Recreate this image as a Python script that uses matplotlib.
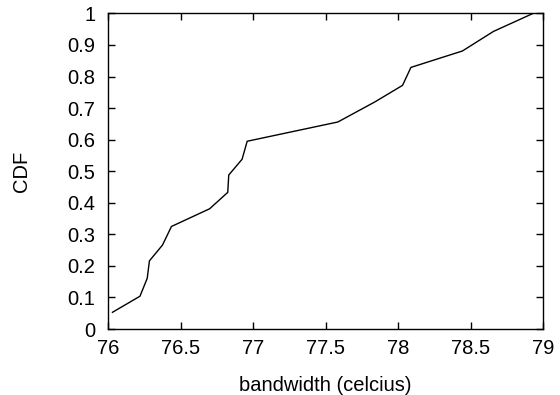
import matplotlib
matplotlib.use("Agg")
import matplotlib.pyplot as plt

# CDF points
temp = [76.03, 76.22, 76.27, 76.285, 76.375, 76.437, 76.70, 76.825, 76.832,
        76.924, 76.959, 77.584, 77.837, 78.03, 78.088, 78.443, 78.657, 78.93]
cdf = [0.053, 0.104, 0.161, 0.216, 0.266, 0.325, 0.381, 0.433, 0.488,
       0.538, 0.595, 0.656, 0.719, 0.772, 0.829, 0.881, 0.943, 1.0]

xticks = [76, 76.5, 77, 77.5, 78, 78.5, 79]
xticklabels = ["76", "76.5", "77", "77.5", "78", "78.5", "79"]
yticks = [0, 0.1, 0.2, 0.3, 0.4, 0.5, 0.6, 0.7, 0.8, 0.9, 1]
yticklabels = ["0", "0.1", "0.2", "0.3", "0.4", "0.5", "0.6", "0.7", "0.8", "0.9", "1"]

plt.rcParams['font.family'] = ['Liberation Sans', 'DejaVu Sans']
plt.rcParams['font.size'] = 14.5

fig = plt.figure(figsize=(5.6, 3.95), dpi=100)
ax = fig.add_axes([0.193, 0.167, 0.777, 0.799])

ax.plot(temp, cdf, color='black', linewidth=1.0)

ax.set_xlim(76, 79)
ax.set_ylim(0, 1)
ax.set_xticks(xticks)
ax.set_xticklabels(xticklabels)
ax.set_yticks(yticks)
ax.set_yticklabels(yticklabels)
ax.tick_params(direction='in', top=True, right=True, length=5, width=1)
ax.tick_params(axis='x', pad=7)
ax.tick_params(axis='y', pad=9)
for s in ax.spines.values():
    s.set_linewidth(1.0)

ax.set_xlabel('bandwidth (celcius)', labelpad=13)
ax.set_ylabel('CDF', labelpad=26)

fig.savefig('out.png', dpi=100)
